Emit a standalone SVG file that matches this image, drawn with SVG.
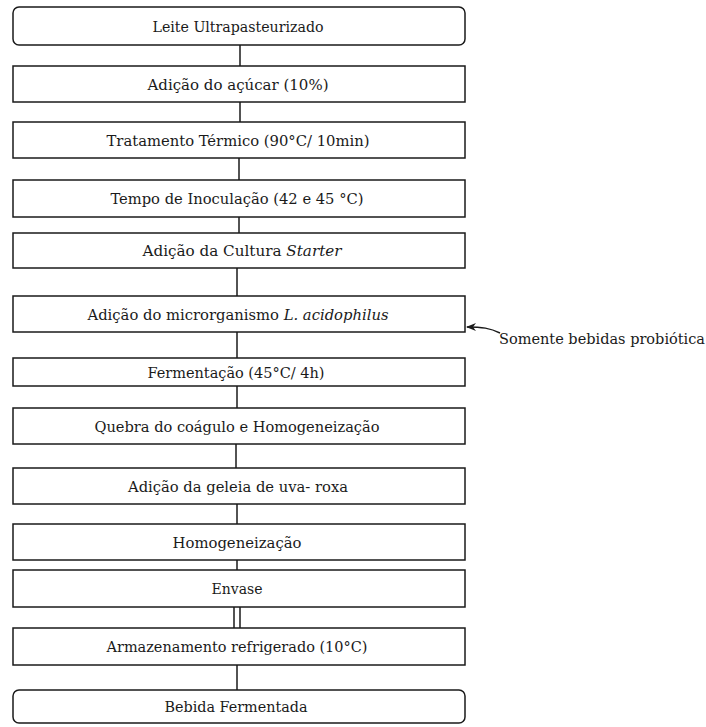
<svg xmlns="http://www.w3.org/2000/svg" width="706" height="727" viewBox="0 0 706 727">
<style>
.b{fill:#fff;stroke:#1a1a1a;stroke-width:1.5}
.t{font-family:"DejaVu Serif Condensed","DejaVu Serif",serif;font-stretch:condensed;font-size:15.5px;fill:#1a1a1a;text-anchor:middle}
.c{stroke:#1a1a1a;stroke-width:1.5;fill:none}
.n{font-family:"DejaVu Serif Condensed","DejaVu Serif",serif;font-stretch:condensed;font-size:15px;fill:#1a1a1a}
</style>
<defs>
<marker id="ah" markerWidth="10" markerHeight="8" refX="9" refY="4" orient="auto" markerUnits="userSpaceOnUse">
<path d="M10,4 L0,0 L3,4 L0,8 Z" fill="#1a1a1a"/>
</marker>
</defs>
<rect width="706" height="727" fill="#fff"/>
<g id="connectors">
<line class="c" x1="240" y1="45" x2="240" y2="66"/>
<line class="c" x1="240" y1="102" x2="240" y2="122"/>
<line class="c" x1="239" y1="158" x2="239" y2="180"/>
<line class="c" x1="239" y1="217" x2="239" y2="233"/>
<line class="c" x1="237" y1="268" x2="237" y2="296"/>
<line class="c" x1="237" y1="332" x2="237" y2="358"/>
<line class="c" x1="237" y1="386" x2="237" y2="408"/>
<line class="c" x1="236" y1="444" x2="236" y2="468"/>
<line class="c" x1="237" y1="504" x2="237" y2="524"/>
<line class="c" x1="237" y1="560" x2="237" y2="570"/>
<line class="c" x1="234" y1="607" x2="234" y2="628"/>
<line class="c" x1="240" y1="607" x2="240" y2="628"/>
<line class="c" x1="237" y1="665" x2="237" y2="690"/>
<path class="c" d="M500,333 C490,328 482,327 467,327" marker-end="url(#ah)"/>
</g>
<g id="n1"><rect class="b" x="13" y="7" width="452" height="38" rx="6"/><text class="t" x="238" y="31.5" textLength="171" lengthAdjust="spacingAndGlyphs">Leite Ultrapasteurizado</text></g>
<g id="n2"><rect class="b" x="13" y="66" width="452" height="36"/><text class="t" x="238" y="89.5" textLength="181" lengthAdjust="spacingAndGlyphs">Adição do açúcar (10%)</text></g>
<g id="n3"><rect class="b" x="13" y="122" width="452" height="36"/><text class="t" x="238" y="145.5" textLength="263" lengthAdjust="spacingAndGlyphs">Tratamento Térmico (90°C/ 10min)</text></g>
<g id="n4"><rect class="b" x="13" y="180" width="452" height="37"/><text class="t" x="237" y="204" textLength="253" lengthAdjust="spacingAndGlyphs">Tempo de Inoculação (42 e 45 °C)</text></g>
<g id="n5"><rect class="b" x="13" y="233" width="452" height="35"/><text class="t" x="242" y="256" textLength="199" lengthAdjust="spacingAndGlyphs">Adição da Cultura <tspan font-style="italic">Starter</tspan></text></g>
<g id="n6"><rect class="b" x="13" y="296" width="452" height="36"/><text class="t" x="238" y="319.5" textLength="301" lengthAdjust="spacingAndGlyphs">Adição do microrganismo <tspan font-style="italic">L. acidophilus</tspan></text></g>
<g id="note"><text class="n" x="499" y="344" textLength="206" lengthAdjust="spacingAndGlyphs">Somente bebidas probiótica</text></g>
<g id="n7"><rect class="b" x="13" y="358" width="452" height="28"/><text class="t" x="236" y="377.5" textLength="177" lengthAdjust="spacingAndGlyphs">Fermentação (45°C/ 4h)</text></g>
<g id="n8"><rect class="b" x="13" y="408" width="452" height="36"/><text class="t" x="237" y="431.5" textLength="285" lengthAdjust="spacingAndGlyphs">Quebra do coágulo e Homogeneização</text></g>
<g id="n9"><rect class="b" x="13" y="468" width="452" height="36"/><text class="t" x="238" y="491.5" textLength="220" lengthAdjust="spacingAndGlyphs">Adição da geleia de uva- roxa</text></g>
<g id="n10"><rect class="b" x="13" y="524" width="452" height="36"/><text class="t" x="237" y="547.5" textLength="129" lengthAdjust="spacingAndGlyphs">Homogeneização</text></g>
<g id="n11"><rect class="b" x="13" y="570" width="452" height="37"/><text class="t" x="237" y="594" textLength="51" lengthAdjust="spacingAndGlyphs">Envase</text></g>
<g id="n12"><rect class="b" x="13" y="628" width="452" height="37"/><text class="t" x="237" y="652" textLength="261" lengthAdjust="spacingAndGlyphs">Armazenamento refrigerado (10°C)</text></g>
<g id="n13"><rect class="b" x="13" y="690" width="452" height="33" rx="6"/><text class="t" x="236" y="712" textLength="143" lengthAdjust="spacingAndGlyphs">Bebida Fermentada</text></g>
</svg>
